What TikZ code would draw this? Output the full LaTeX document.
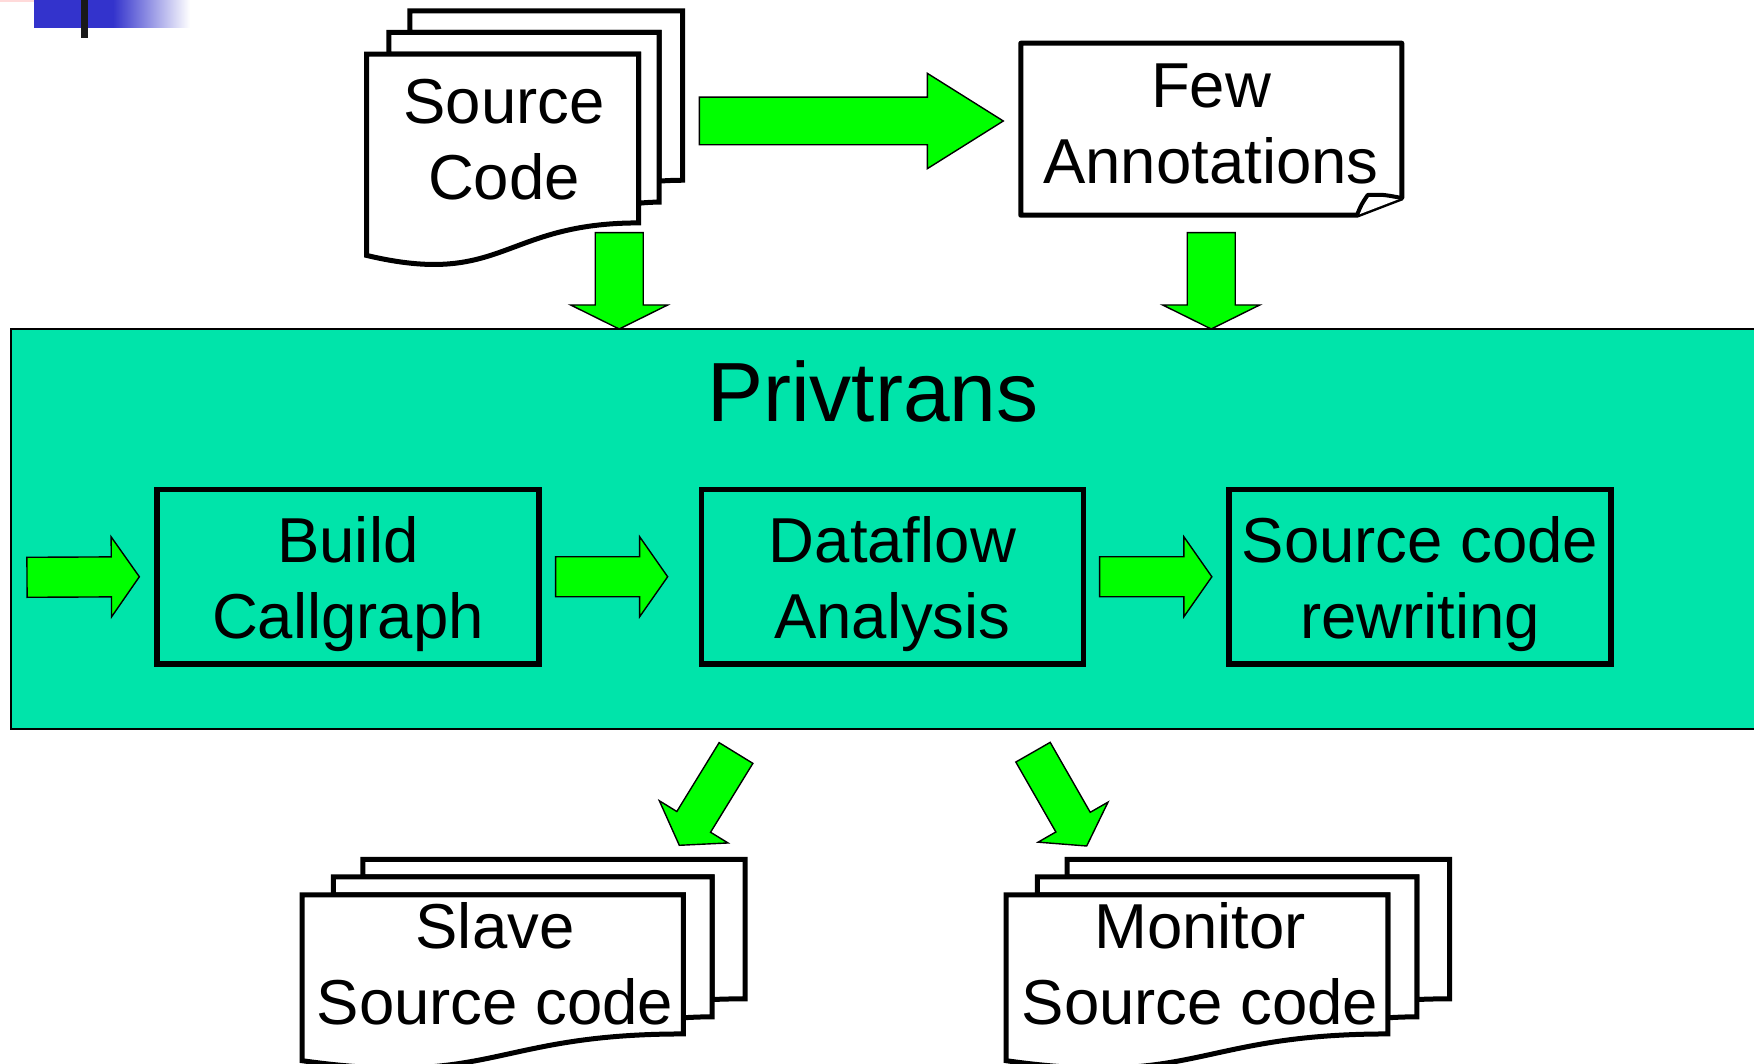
\documentclass[tikz,border=0pt]{standalone}
\usepackage{fontspec}
\setmainfont{Liberation Sans}
\usetikzlibrary{calc}

\definecolor{privfill}{RGB}{0,228,170}
\definecolor{arrowgreen}{RGB}{0,255,0}
\definecolor{barblue}{RGB}{51,51,204}
\definecolor{barpink}{RGB}{255,218,218}

\tikzset{
  docline/.style={draw=black, fill=white, line width=5pt, line join=miter},
  stagebox/.style={draw=black, line width=5.5pt, minimum width=382pt,
    minimum height=174.5pt, inner sep=0pt},
  lbl/.style={inner sep=0pt, anchor=base, font=\fontsize{63.5}{76.5}\selectfont},
  greenarrow/.style={draw=black, fill=arrowgreen, line width=1.4pt, line join=miter},
}

% block arrow: tail, tip, shaft half-width, head half-width, head length
\newcommand\blockarrow[5]{%
  \coordinate (ba-base) at ($(#2)!#5!(#1)$);
  \filldraw[greenarrow]
    ($(#1)!#3!90:(#2)$) --
    ($(ba-base)!#3!-90:(#1)$) --
    ($(ba-base)!#4!-90:(#1)$) --
    (#2) --
    ($(ba-base)!#4!90:(#1)$) --
    ($(ba-base)!#3!90:(#1)$) --
    ($(#1)!#3!-90:(#2)$) -- cycle;
}

% stack of three pages with a wavy front page: left, top, width, height
\newcommand\multidoc[4]{%
  \begin{scope}[shift={(#1,#2)}, x=#3pt, y=-#4pt]
    \filldraw[docline] (0.13759,0.08403) -- (0.13759,0) -- (1,0) -- (1,0.66630)
      .. controls (0.96296,0.66630) and (0.92593,0.66977) .. (0.92593,0.66977)
      -- (0.92593,0.08403) -- cycle;
    \filldraw[docline] (0.07093,0.17014) -- (0.07093,0.08403) -- (0.92593,0.08403)
      -- (0.92593,0.75241)
      .. controls (0.89343,0.75241) and (0.86088,0.75704) .. (0.86088,0.75704)
      -- (0.86088,0.17014) -- cycle;
    \filldraw[docline] (0,0.96213)
      .. controls (0.43046,1.08991) and (0.43046,0.83435) .. (0.86088,0.83435)
      -- (0.86088,0.17014) -- (0,0.17014) -- cycle;
  \end{scope}
}

\begin{document}
\begin{tikzpicture}[x=1pt, y=-1pt]
  \useasboundingbox (0,0) rectangle (1754,1064);
  \clip (0,0) rectangle (1754,1064);
  \fill[white] (0,0) rectangle (1754,1064);

  % corner ornament
  \fill[barpink] (0,0) rectangle (65,1.7);
  \fill[barblue] (34,0) rectangle (114,27.7);
  \shade[left color=barblue, right color=white] (113,0) rectangle (190,27.7);
  \fill[black!90] (81,0) rectangle (87.7,37.7);

  % Privtrans frame
  \node[draw=black, fill=privfill, line width=1.6pt, minimum width=1800pt,
    minimum height=400pt, anchor=north west, inner sep=0pt, outer sep=0pt]
    (priv) at (11,329) {};
  \node[inner sep=0pt, anchor=base, font=\fontsize{84}{100}\selectfont]
    (priv-t) at (873,421.7) {Privtrans};

  % processing stages
  \node[stagebox] (build) at (347.9,576.75) {};
  \node[stagebox] (dataflow) at (892.4,576.75) {};
  \node[stagebox] (rewrite) at (1420,576.75) {};
  \node[lbl] (build-t) at (347.9,562.3)
    {\begin{tabular}[t]{@{}c@{}}Build\\Callgraph\end{tabular}};
  \node[lbl] (dataflow-t) at (892.4,562.3)
    {\begin{tabular}[t]{@{}c@{}}Dataflow\\Analysis\end{tabular}};
  \node[lbl] (rewrite-t) at (1420,562.3)
    {\begin{tabular}[t]{@{}c@{}}Source code\\rewriting\end{tabular}};

  % input documents
  \multidoc{366.5}{11}{316}{254}
  \node[lbl] (src-t) at (504,123.3)
    {\begin{tabular}[t]{@{}c@{}}Source\\Code\end{tabular}};

  \filldraw[docline, line join=round] (1020.8,43.2) -- (1401.8,43.2) -- (1401.8,198)
    -- (1357,215.2) -- (1020.8,215.2) -- cycle;
  \draw[black, line width=4pt, line join=round, fill=white] (1357,215.2)
    .. controls (1361,205) .. (1367.7,195)
    .. controls (1383,194.5) .. (1401.8,198);
  \node[lbl] (ann-t) at (1211,107.3)
    {\begin{tabular}[t]{@{}c@{}}Few\\Annotations\end{tabular}};

  % output documents
  \multidoc{302}{859.4}{443}{209.2}
  \node[lbl] (slave-t) at (495,948.3)
    {\begin{tabular}[t]{@{}c@{}}Slave\\Source code\end{tabular}};
  \multidoc{1006}{859.4}{443.6}{209.2}
  \node[lbl] (monitor-t) at (1200,948.3)
    {\begin{tabular}[t]{@{}c@{}}Monitor\\Source code\end{tabular}};

  % arrow end points
  \coordinate (src-out) at (699.3,121);
  \coordinate (ann-in) at (1003.3,121);
  \coordinate (src-down) at (619.2,232.7);
  \coordinate (ann-down) at (1211.2,232.7);
  \coordinate (priv-in) at (27,577.3);
  \coordinate (slave-from) at (736,753);
  \coordinate (slave-in) at (679.3,845.3);
  \coordinate (monitor-from) at (1033,752.2);
  \coordinate (monitor-in) at (1086.7,846);

  % flow arrows
  \blockarrow{src-out}{ann-in}{23.8pt}{47.7pt}{76pt}
  \blockarrow{src-down}{src-down |- priv.north}{24pt}{48.5pt}{24pt}
  \blockarrow{ann-down}{ann-down |- priv.north}{24pt}{48.5pt}{24pt}

  \blockarrow{priv-in}{[xshift=-14.8pt]build.west}{20pt}{40pt}{28pt}
  \blockarrow{[xshift=14pt]build.east}{[xshift=-31pt]dataflow.west}{20pt}{40pt}{28pt}
  \blockarrow{[xshift=13.5pt]dataflow.east}{[xshift=-14.4pt]rewrite.west}{20pt}{40pt}{28pt}

  \blockarrow{slave-from}{slave-in}{19.8pt}{40.3pt}{27.5pt}
  \blockarrow{monitor-from}{monitor-in}{19.8pt}{40.3pt}{27.5pt}
\end{tikzpicture}
\end{document}
